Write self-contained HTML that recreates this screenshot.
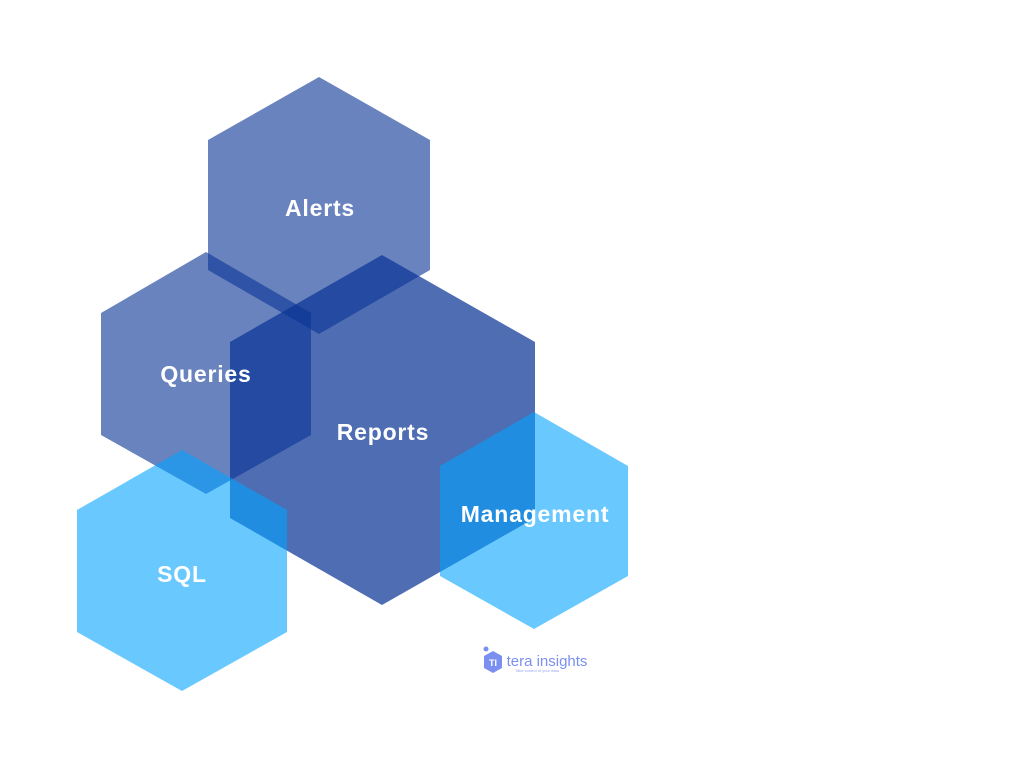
<!DOCTYPE html>
<html><head><meta charset="utf-8"><style>
html,body{margin:0;padding:0;background:#fff;width:1024px;height:768px;overflow:hidden}
svg text{font-family:"Liberation Sans",sans-serif;font-weight:bold;fill:#fff;font-size:23px;text-anchor:middle;letter-spacing:0.8px}
</style></head><body>
<svg width="1024" height="768" viewBox="0 0 1024 768">
<g fill="#0a3596">
<polygon points="319,77 430,140 430,270 319,334 208,270 208,140" opacity="0.61"/>
<polygon points="206,252 311,313 311,435 206,494 101,435 101,313" opacity="0.61"/>
<polygon points="382,255 535,342 535,518 382,605 230,518 230,342" opacity="0.72"/>
</g>
<g fill="#00a3ff">
<polygon points="182,450 287,510 287,632 182,691 77,632 77,510" opacity="0.59"/>
<polygon points="534,412 628,466 628,576 534,629 440,576 440,466" opacity="0.59"/>
</g>
<text x="320" y="216">Alerts</text>
<text x="206" y="382">Queries</text>
<text x="383" y="440">Reports</text>
<text x="182" y="582">SQL</text>
<text x="535" y="522">Management</text>
<g>
<circle cx="486" cy="649" r="2.5" fill="#7b8ff0"/>
<polygon points="493,651 502,656 502,668 493,673 484,668 484,656" fill="#7b8ff0"/>
<text x="493" y="666" style="font-size:9px;letter-spacing:0">TI</text>
<text x="547" y="666" style="font-size:15px;font-weight:normal;fill:#7b8ff0;letter-spacing:0">tera insights</text>
<text x="537" y="672" style="font-size:4px;font-weight:normal;fill:#9aa8f0;letter-spacing:0">Take control of your data</text>
</g>
</svg>
</body></html>
